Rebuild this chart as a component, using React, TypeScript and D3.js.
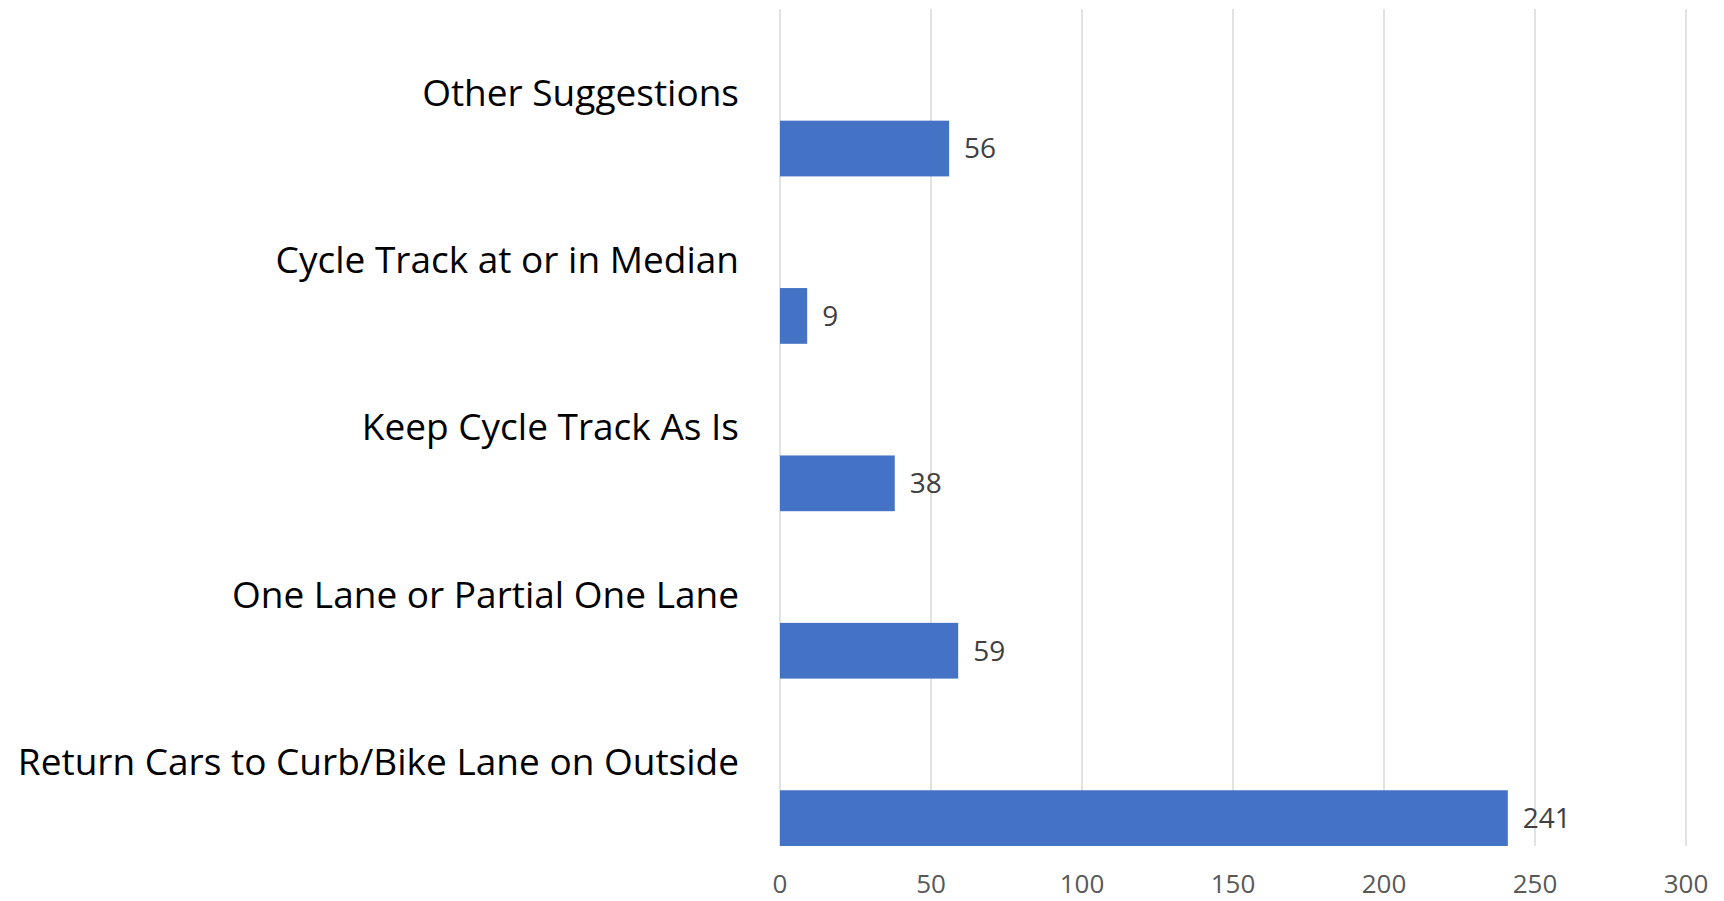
import React from "react";
import * as d3 from "d3";

const categories = [
  "Other Suggestions",
  "Cycle Track at or in Median",
  "Keep Cycle Track As Is",
  "One Lane or Partial One Lane",
  "Return Cars to Curb/Bike Lane on Outside",
];
const values = [56, 9, 38, 59, 241];
const ticks = [0, 50, 100, 150, 200, 250, 300];

const W = 1724;
const H = 901;
const M = { left: 780, right: 38, top: 9, bottom: 55 };

export default function App() {
  const x = d3.scaleLinear().domain([0, 300]).range([M.left, W - M.right]);
  const y = d3.scaleBand<string>().domain(categories).range([M.top, H - M.bottom]).padding(0);
  const bw = y.bandwidth();
  const font = "Open Sans, Calibri, sans-serif";
  return (
    <svg width={W} height={H} style={{ position: "absolute", left: 0, top: 0, background: "#fff" }}>
      {ticks.map((t) => (
        <line key={t} x1={x(t)} x2={x(t)} y1={M.top} y2={H - M.bottom} stroke="#d9d9d9" strokeWidth={1.5} />
      ))}
      {ticks.map((t) => (
        <text key={"t" + t} x={x(t)} y={H - 8} textAnchor="middle" fontFamily={font} fontSize={26} fill="#595959">
          {t}
        </text>
      ))}
      {categories.map((c, i) => {
        const y0 = y(c)!;
        const top = y0 + bw * 0.667;
        const h = bw * 0.333;
        return (
          <g key={c}>
            <text x={739} y={y0 + bw / 2} dy="0.35em" textAnchor="end" fontFamily={font} fontSize={37} fill="#000">
              {c}
            </text>
            <rect x={x(0)} y={top} width={x(values[i]) - x(0)} height={h} fill="#4472c4" />
            <text x={x(values[i]) + 15} y={top + h / 2} dy="0.35em" fontFamily={font} fontSize={28} fill="#404040">
              {values[i]}
            </text>
          </g>
        );
      })}
    </svg>
  );
}
